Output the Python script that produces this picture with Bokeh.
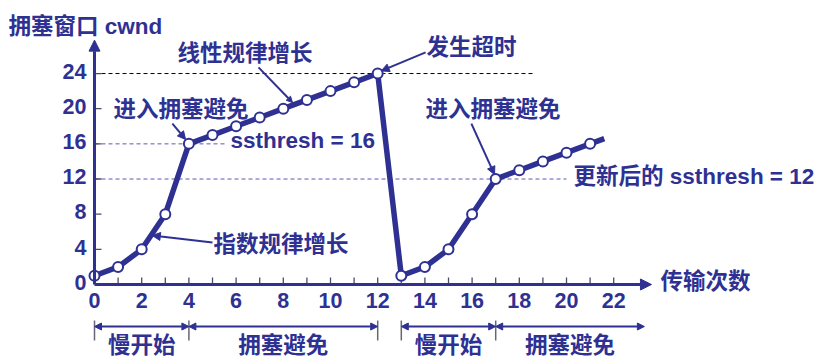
from bokeh.plotting import figure
from bokeh.models import Range1d, Arrow, NormalHead
from bokeh.core.properties import value
from bokeh.embed import file_html
from bokeh.resources import INLINE

# ---------------- data ----------------
rounds = list(range(0, 22))
cwnd = [1, 2, 4, 8, 16, 17, 18, 19, 20, 21, 22, 23, 24,
        1, 2, 4, 8, 12, 13, 14, 15, 16]
trend_end_x = 21.6
trend_end_y = 16.6

x_tick_labels = [0, 2, 4, 6, 8, 10, 12, 14, 16, 18, 20, 22]
x_minor_ticks = list(range(1, 23))
y_tick_labels = [0, 4, 8, 12, 16, 20, 24]

ssthresh_old = 16
ssthresh_new = 12
timeout_cwnd = 24

phase_starts = [0, 4, 13, 17]
phase_ends = [4, 12, 17, 23.3]
phase_labels = ["慢开始", "拥塞避免", "慢开始", "拥塞避免"]
phase_bars = [0, 4, 12, 13, 17]

# ---------------- style ----------------
BLUE = "#2E3192"
DASH_BLUE = "#5a5ab0"
TICK = "#4a4a6a"
FONT = value("Liberation Sans, Noto Sans CJK SC")
CJK = value("Noto Sans CJK SC, Liberation Sans")
LABEL_SIZE = "22.5px"
TICK_SIZE = "21.5px"

PX_X = 23.6   # pixels per round
PX_Y = 8.79   # pixels per cwnd unit

p = figure(width=819, height=361, output_backend="svg", toolbar_location=None,
           x_axis_location=None, y_axis_location=None, min_border=0,
           x_range=Range1d(-94 / PX_X, (819 - 94) / PX_X),
           y_range=Range1d(-77 / PX_Y, 284 / PX_Y))
p.outline_line_color = None
p.xgrid.visible = False
p.ygrid.visible = False
p.background_fill_color = "white"
p.border_fill_color = "white"

# reference dashed lines
p.line([0, 18.6], [timeout_cwnd, timeout_cwnd], line_color="black", line_width=1, line_dash="4 3")
p.line([0, 5.6], [ssthresh_old, ssthresh_old], line_color=DASH_BLUE, line_width=1, line_dash="4 3")
p.line([0, 20.0], [ssthresh_new, ssthresh_new], line_color=DASH_BLUE, line_width=1, line_dash="4 3")

# axes (drawn with arrows)
p.add_layout(Arrow(x_start=0, y_start=0, x_end=23.6, y_end=0, line_color=BLUE, line_width=3,
                   end=NormalHead(size=11, fill_color=BLUE, line_color=BLUE, line_width=1)))
p.add_layout(Arrow(x_start=0, y_start=0, x_end=0, y_end=27.8, line_color=BLUE, line_width=3,
                   end=NormalHead(size=11, fill_color=BLUE, line_color=BLUE, line_width=1)))

# ticks
p.segment(x0=x_minor_ticks, y0=[0] * len(x_minor_ticks), x1=x_minor_ticks,
          y1=[7 / PX_Y] * len(x_minor_ticks), line_color=TICK, line_width=1.3)
yt = [v for v in y_tick_labels if v > 0]
p.segment(x0=[0] * len(yt), y0=yt, x1=[7 / PX_X] * len(yt), y1=yt, line_color=TICK, line_width=1.3)

# tick labels
p.text(x=x_tick_labels, y=[-1.82] * len(x_tick_labels), text=[str(v) for v in x_tick_labels],
       text_font=FONT, text_font_style="bold", text_font_size=TICK_SIZE, text_color=BLUE,
       text_align="center", text_baseline="middle")
p.text(x=[-0.34] * len(y_tick_labels), y=[v + 0.25 for v in y_tick_labels], text=[str(v) for v in y_tick_labels],
       text_font=FONT, text_font_style="bold", text_font_size=TICK_SIZE, text_color=BLUE,
       text_align="right", text_baseline="middle")

# main cwnd curve
p.line(rounds + [trend_end_x], cwnd + [trend_end_y], line_color=BLUE, line_width=5.5,
       line_join="round")
p.scatter(rounds, cwnd, size=10, marker="circle", fill_color="white", line_color=BLUE, line_width=2)

# annotations text
def label(x, y, t, align="left", font=FONT):
    p.text(x=[x], y=[y], text=[t], text_font=font, text_font_style="bold", text_font_size=LABEL_SIZE,
           text_color=BLUE, text_align=align, text_baseline="middle")

label(-3.644, 29.35, "拥塞窗口 cwnd")
label(3.517, 26.51, "线性规律增长", font=CJK)
label(14.07, 27.19, "发生超时", font=CJK)
label(0.805, 20.25, "进入拥塞避免", font=CJK)
label(5.763, 16.38, "ssthresh = 16")
label(14.03, 20.25, "进入拥塞避免", font=CJK)
label(20.30, 12.29, "更新后的 ssthresh = 12")
label(5.04, 4.78, "指数规律增长", font=CJK)
label(23.98, 0.68, "传输次数", font=CJK)

# annotation arrows
def arrow(x0, y0, x1, y1, size=8):
    p.add_layout(Arrow(x_start=x0, y_start=y0, x_end=x1, y_end=y1, line_color=BLUE, line_width=2,
                       end=NormalHead(size=size, fill_color=BLUE, line_color=BLUE, line_width=1)))

arrow(6.95, 24.7, 8.39, 20.7, size=6)
arrow(14.03, 26.4, 12.15, 24.3)
arrow(3.3, 18.3, 3.86, 16.5)
arrow(15.97, 18.3, 16.95, 12.5)
arrow(5.0, 4.78, 2.45, 5.57)

# phase brackets
for s, e, t in zip(phase_starts, phase_ends, phase_labels):
    p.add_layout(Arrow(x_start=s, y_start=-4.78, x_end=e, y_end=-4.78, line_color=BLUE, line_width=2,
                       start=NormalHead(size=7, fill_color=BLUE, line_color=BLUE, line_width=1),
                       end=NormalHead(size=7, fill_color=BLUE, line_color=BLUE, line_width=1)))
    p.text(x=[(s + e) / 2], y=[-6.71], text=[t], text_font=CJK, text_font_style="bold",
           text_font_size=LABEL_SIZE, text_color=BLUE, text_align="center", text_baseline="middle")
p.segment(x0=phase_bars, y0=[-4.10] * len(phase_bars), x1=phase_bars, y1=[-6.37] * len(phase_bars),
          line_color="#666677", line_width=1.5)

open("out.html", "w").write(file_html(p, INLINE))
